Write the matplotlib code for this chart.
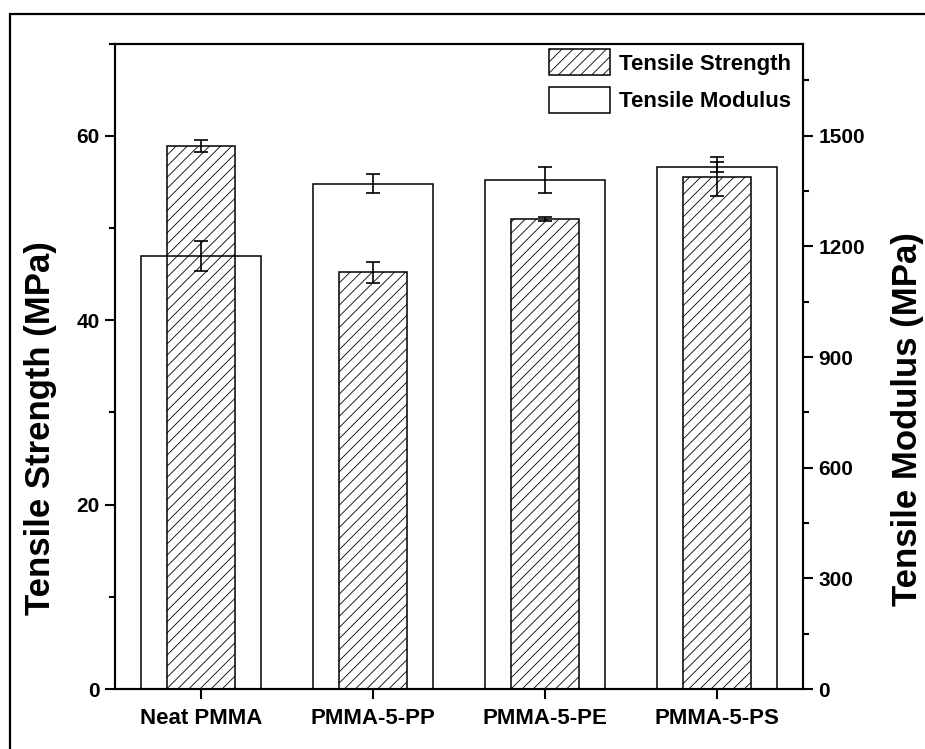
import numpy as np
import matplotlib.pyplot as plt
from matplotlib.patches import Rectangle, Patch

plt.rcParams['font.family'] = ['Liberation Sans', 'DejaVu Sans']
plt.rcParams['font.weight'] = 'bold'
plt.rcParams['hatch.linewidth'] = 0.6

samples = ['Neat PMMA', 'PMMA-5-PP', 'PMMA-5-PE', 'PMMA-5-PS']
strength = [58.85, 45.2, 50.95, 55.55]
strength_err = [0.65, 1.15, 0.22, 2.1]
modulus = [1173, 1370, 1381, 1415]
modulus_err = [41, 26, 35, 13]

x = np.arange(len(samples))

fig = plt.figure(figsize=(9.25, 7.49), dpi=100)
ax = fig.add_axes([0.1243, 0.0801, 0.7438, 0.8618])
ax2 = ax.twinx()

ax.bar(x, strength, 0.4, color='white', edgecolor='black', linewidth=1.1,
       hatch='///', zorder=2)
ax.errorbar(x, strength, yerr=strength_err, fmt='none', ecolor='black',
            elinewidth=1.2, capsize=5, capthick=1.2, zorder=3)
ax2.bar(x, modulus, 0.7, facecolor='none', edgecolor='black', linewidth=1.1)
ax2.errorbar(x, modulus, yerr=modulus_err, fmt='none', ecolor='black',
             elinewidth=1.2, capsize=5, capthick=1.2)

ax.set_xlim(-0.5, 3.5)
ax.set_ylim(0, 70)
ax2.set_ylim(0, 1750)
ax.set_xticks(x)
ax.set_xticklabels(samples)
ax.set_yticks([0, 20, 40, 60])
ax.set_yticks([10, 30, 50, 70], minor=True)
ax2.set_yticks([0, 300, 600, 900, 1200, 1500])
ax2.set_yticks([150, 450, 750, 1050, 1350, 1650], minor=True)

for a in (ax, ax2):
    a.tick_params(which='major', direction='out', length=7, width=1.5,
                  labelsize=15, pad=4)
    a.tick_params(which='minor', direction='out', length=4, width=1.5)
    for s in a.spines.values():
        s.set_linewidth(1.5)
ax.tick_params(axis='x', labelsize=16, pad=7)

ax.set_ylabel('Tensile Strength (MPa)', fontsize=25, fontweight='bold')
ax2.set_ylabel('Tensile Modulus (MPa)', fontsize=25, fontweight='bold')
ax.yaxis.set_label_coords(-0.084, 0.405)
ax2.yaxis.set_label_coords(1.128, 0.418)

handles = [Patch(facecolor='white', edgecolor='black', hatch='///', linewidth=1.1),
           Patch(facecolor='white', edgecolor='black', linewidth=1.1)]
ax2.legend(handles, ['Tensile Strength', 'Tensile Modulus'], loc='upper right',
           bbox_to_anchor=(0.99, 1.0), frameon=False, fontsize=16,
           handlelength=2.75, handleheight=1.45, handletextpad=0.4,
           labelspacing=0.5, borderaxespad=0.0, borderpad=0.25)

fig.patches.append(Rectangle((10 / 925, -0.1), 1.2, 1.1 - 14 / 749,
                             transform=fig.transFigure, fill=False,
                             edgecolor='black', linewidth=1.6))

fig.savefig('out.png', dpi=100)
